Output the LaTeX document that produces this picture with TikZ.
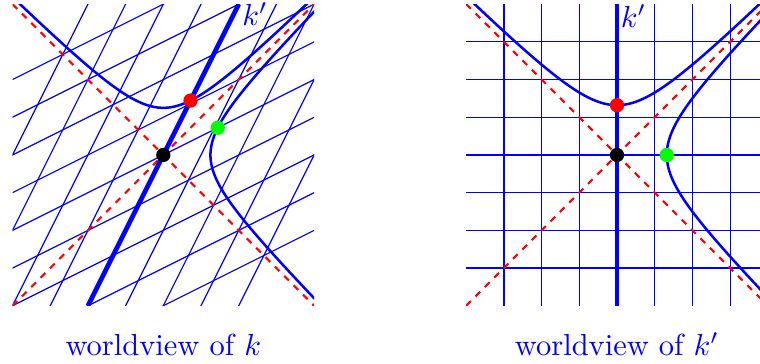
\documentclass[tikz,border=0pt]{standalone}
\usetikzlibrary{calc}
\tikzset{
  gridline/.style={blue, line width=0.9pt},
  worldline/.style={blue, line width=3.5pt},
  hyper/.style={blue, line width=1.9pt},
  lightcone/.style={red, line width=1.6pt, dash pattern=on 5pt off 5pt}
}
\tikzset{
  caption/.style={blue, scale=2.3, inner sep=0pt, anchor=base}
}
\newcommand{\evt}[3]{%
  \node[circle, fill=#2, inner sep=0pt, minimum size=0.38cm] (#3) at (#1) {};
}

\begin{document}
\begin{tikzpicture}
  \useasboundingbox (0,0) rectangle (20.159,9.655);
  % worldview of k: the k' grid seen skewed
  \begin{scope}[shift={(4.332,5.544)}]
    \clip (-4,-4) rectangle (4,4);
    \foreach \n in {-4,...,4} {
      \draw[gridline] (-10,{\n-5}) -- (10,{\n+5});
      \draw[gridline] ({\n-5},-10) -- ({\n+5},10);
    }
    \draw[hyper] plot[domain=-4:4, samples=80, smooth] (\x,{sqrt(\x*\x+1.5625)});
    \draw[hyper] plot[domain=-4:4, samples=80, smooth] ({sqrt(\x*\x+1.5625)},\x);
    \draw[lightcone] (-4,-4) -- (4,4);
    \draw[lightcone] (-4,4) -- (4,-4);
    \draw[worldline] (-2,-4) -- (2,4);
    \evt{0,0}{black}{originL}
    \evt{0.722,1.443}{red}{timeL}
    \evt{1.443,0.722}{green}{spaceL}
  \end{scope}
  % worldview of k'
  \begin{scope}[shift={(16.366,5.544)}]
    \clip (-4,-4) rectangle (4,4);
    \foreach \n in {-3,...,3} {
      \draw[gridline] (-4,\n) -- (4,\n);
      \draw[gridline] (\n,-4) -- (\n,4);
    }
    \draw[hyper] plot[domain=-4:4, samples=80, smooth] (\x,{sqrt(\x*\x+1.7424)});
    \draw[hyper] plot[domain=-4:4, samples=80, smooth] ({sqrt(\x*\x+1.7424)},\x);
    \draw[lightcone] (-4,-4) -- (4,4);
    \draw[lightcone] (-4,4) -- (4,-4);
    \draw[worldline] (0,-4) -- (0,4);
    \evt{0,0}{black}{originR}
    \evt{0,1.32}{red}{timeR}
    \evt{1.32,0}{green}{spaceR}
  \end{scope}
  \node[blue, scale=2.3, inner sep=0pt, anchor=base west] (kprimeL) at (6.41,8.98) {$k'$};
  \node[blue, scale=2.3, inner sep=0pt, anchor=base west] (kprimeR) at (16.45,8.93) {$k'$};
  \node[caption] (capL) at (4.332,0.212) {worldview of $k$};
  \node[caption] (capR) at (16.366,0.212) {worldview of $k'$};
\end{tikzpicture}
\end{document}
